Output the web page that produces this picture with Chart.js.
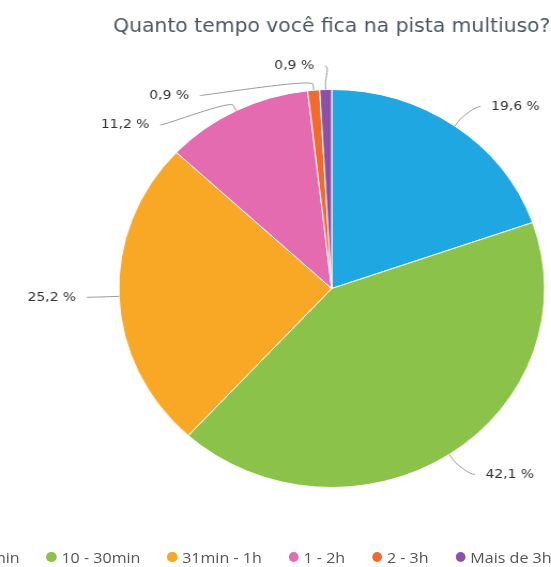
<!DOCTYPE html>
<html>
<head>
<meta charset="utf-8">
<script src="https://cdn.jsdelivr.net/npm/chart.js@4.4.1/dist/chart.umd.min.js"></script>
<style>
html, body { margin: 0; padding: 0; overflow: hidden; background: #fff; }
#wrap { position: absolute; left: 0; top: 0; width: 620px; height: 567px; transform: scaleX(1.07); transform-origin: 0 0; }
#legenda { position: absolute; right: 104.5px; top: 547px; height: 20px; width: max-content; display: flex; align-items: center; white-space: nowrap; font: 15px "Open Sans", sans-serif; color: #555; }
#legenda .item { display: flex; align-items: center; margin-left: 25px; }
#legenda .bola { width: 9.3px; height: 10px; border-radius: 50%; margin-right: 4.7px; }
</style>
</head>
<body>
<div id="wrap">
  <canvas id="grafico"></canvas>
  <div id="legenda"></div>
</div>
<script>
// Dados
const titulo = 'Quanto tempo você fica na pista multiuso?';
const categorias = ['Menos de 10min', '10 - 30min', '31min - 1h', '1 - 2h', '2 - 3h', 'Mais de 3h'];
const percentuais = [19.6, 42.1, 25.2, 11.2, 0.9, 0.9];
const cores = ['#1fa7e1', '#8bc34a', '#f9a825', '#e46bb0', '#f26b2a', '#8e4fa6'];

// 19.6 -> "19,6 %"
function formata(v){
    return v.toFixed(1).replace('.', ',') + ' %';
}

// Rotulos externos com linhas de ligacao
const DIST = 30;      // distancia do rotulo (x)
const DIST_Y = 24;    // distancia do rotulo (y)
const ESPACO = 29.5;  // espaco minimo entre rotulos

const rotulos = {
    id: 'rotulos',
    afterDatasetsDraw(chart){
        const ctx = chart.ctx;
        const topo = chart.chartArea.top - 23;
        const arcos = chart.getDatasetMeta(0).data;

        const pontos = arcos.map((arco, i) => {
            const p = arco.getProps(['x', 'y', 'startAngle', 'endAngle', 'outerRadius'], true);
            const meio = (p.startAngle + p.endAngle) / 2;
            const cos = Math.cos(meio), sin = Math.sin(meio);
            const R = p.outerRadius + DIST;
            return {
                i, cx: p.x, cy: p.y, r: p.outerRadius, R, cos, sin,
                esquerda: cos < 0,
                natX: p.x + cos * R,
                natY: p.y + sin * (p.outerRadius + DIST_Y)
            };
        });

        [true, false].forEach(lado => {
            const grupo = pontos.filter(p => p.esquerda === lado).sort((a, b) => a.natY - b.natY);
            let anterior = -Infinity;
            grupo.forEach(p => {
                const alvo = Math.max(p.natY, anterior + ESPACO);
                if(alvo < topo){
                    p.ly = topo;
                    p.lx = p.natX;
                } else {
                    p.ly = alvo;
                    const dy = Math.min(Math.abs(p.ly - p.cy), p.R);
                    p.lx = p.cx + (lado ? -1 : 1) * Math.sqrt(p.R * p.R - dy * dy);
                }
                anterior = p.ly;
            });
        });

        ctx.save();
        ctx.strokeStyle = '#999';
        ctx.lineWidth = 1;
        ctx.font = '13px "DejaVu Sans"';
        ctx.fillStyle = '#333';
        ctx.textBaseline = 'middle';
        pontos.forEach(p => {
            const s = p.esquerda ? -1 : 1;
            const tx = p.cx + p.cos * p.r, ty = p.cy + p.sin * p.r;
            const bx = p.cx + p.cos * (p.r + 6), by = p.cy + p.sin * (p.r + 6);
            ctx.beginPath();
            ctx.moveTo(p.lx, p.ly);
            ctx.bezierCurveTo(p.lx - s * 5, p.ly, 2 * bx - tx, 2 * by - ty, bx, by);
            ctx.lineTo(tx, ty);
            ctx.stroke();
            ctx.textAlign = p.esquerda ? 'right' : 'left';
            ctx.fillText(formata(percentuais[p.i]), p.lx + s * 10, p.ly);
        });
        ctx.restore();
    }
};

new Chart(document.getElementById('grafico'), {
    type: 'pie',
    data: {
        labels: categorias,
        datasets: [{
            data: percentuais,
            backgroundColor: cores,
            borderColor: '#fff',
            borderWidth: 1,
            hoverOffset: 0
        }]
    },
    options: {
        responsive: true,
        maintainAspectRatio: false,
        animation: false,
        events: [],
        layout: { padding: { top: 0, right: 0, bottom: 79, left: 0 } },
        plugins: {
            legend: { display: false },
            tooltip: { enabled: false },
            title: {
                display: true,
                text: titulo,
                color: '#4b5663',
                font: { family: 'DejaVu Sans', size: 19, weight: 'normal', lineHeight: 1.2 },
                padding: { top: 16, bottom: 50.2 }
            }
        }
    },
    plugins: [rotulos]
});

// Legenda
const legenda = document.getElementById('legenda');
categorias.forEach((c, i) => {
    const item = document.createElement('span');
    item.className = 'item';
    const bola = document.createElement('span');
    bola.className = 'bola';
    bola.style.background = cores[i];
    item.appendChild(bola);
    item.appendChild(document.createTextNode(c));
    legenda.appendChild(item);
});
</script>
</body>
</html>
